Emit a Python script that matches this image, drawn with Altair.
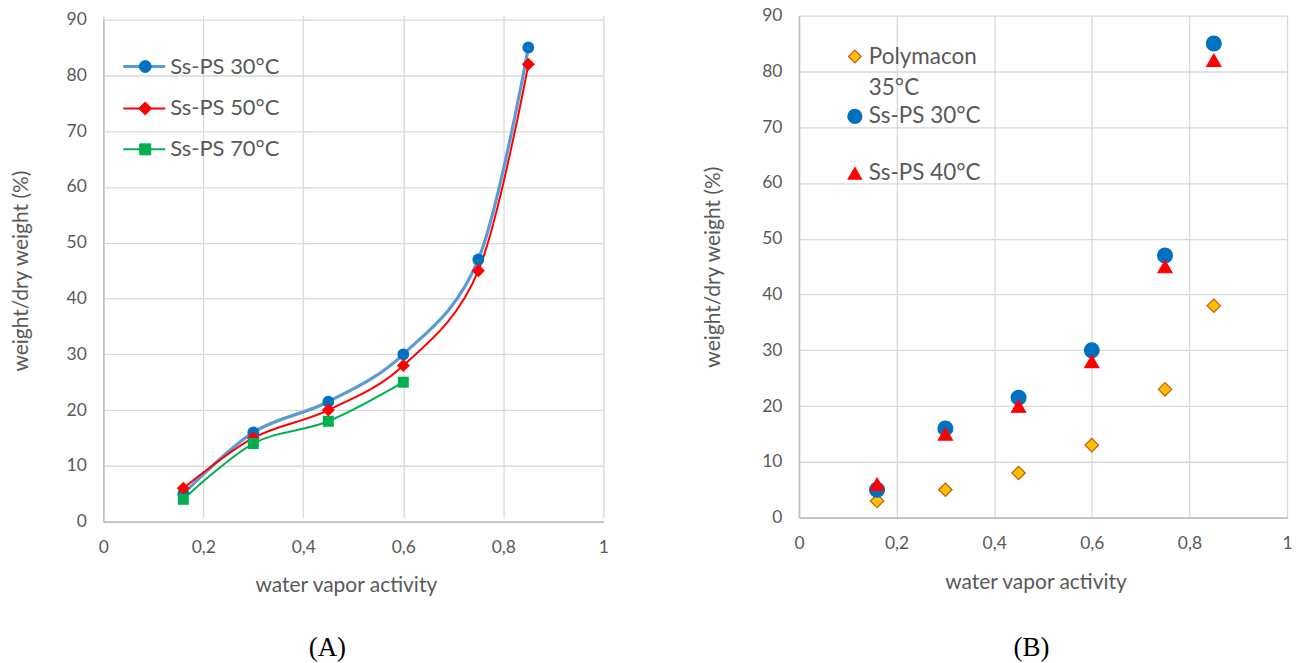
import altair as alt
import pandas as pd

# ---------------- data ----------------
x_vals = [0.16, 0.3, 0.45, 0.6, 0.75, 0.85]
x_vals_70 = [0.16, 0.3, 0.45, 0.6]
a_30 = [5, 16, 21.5, 30, 47, 85]
a_50 = [6, 15, 20, 28, 45, 82]
a_70 = [4, 14, 18, 25]
b_poly = [3, 5, 8, 13, 23, 38]
b_30 = [5, 16, 21.5, 30, 47, 85]
b_40 = [6, 15, 20, 28, 45, 82]

labels_a = ["Ss-PS 30°C", "Ss-PS 50°C", "Ss-PS 70°C"]
labels_b = ["Polymacon", "35°C", "Ss-PS 30°C", "Ss-PS 40°C"]
x_ticks = [0, 0.2, 0.4, 0.6, 0.8, 1]
y_ticks = [0, 10, 20, 30, 40, 50, 60, 70, 80, 90]
x_title = "water vapor activity"
y_title = "weight/dry weight (%)"
captions = ["(A)", "(B)"]

# ---------------- style ----------------
FONT = "Lato"
GRID = "#d9d9d9"
DOMAIN = "#bfbfbf"
TXT = "#595959"
LEG_SIZE = 22

df_a = pd.concat([
    pd.DataFrame({"x": x_vals, "y": a_30, "s": labels_a[0]}),
    pd.DataFrame({"x": x_vals, "y": a_50, "s": labels_a[1]}),
    pd.DataFrame({"x": x_vals_70, "y": a_70, "s": labels_a[2]}),
], ignore_index=True)

df_b = pd.concat([
    pd.DataFrame({"x": x_vals, "y": b_poly, "s": "Polymacon 35°C"}),
    pd.DataFrame({"x": x_vals, "y": b_30, "s": labels_b[2]}),
    pd.DataFrame({"x": x_vals, "y": b_40, "s": labels_b[3]}),
], ignore_index=True)


def encs(panel):
    if panel == "A":
        yscale = alt.Scale(domain=[0, 90], nice=False, range=[507, 4])
        tx = (243, 64)
        ty = (-82, 255.5)
    else:
        yscale = alt.Scale(domain=[0, 90], nice=False)
        tx = (237, 65)
        ty = (-86, 251.5)
    common = dict(domainColor=DOMAIN, domainWidth=1.6, ticks=False, grid=True,
                  gridColor=GRID, gridWidth=1.3, labelFont=FONT, labelFontSize=17.5,
                  labelColor=TXT, labelPadding=17, labelFlush=False, labelOverlap=False,
                  titleFont=FONT, titleFontSize=21, titleColor=TXT,
                  titleFontWeight="normal", titleBaseline="middle", titleAlign="center")
    xaxis = alt.Axis(values=x_ticks,
                     labelExpr="replace(toString(datum.value), '.', ',')",
                     title=x_title, titleX=tx[0], titleY=tx[1], **common)
    yaxis = alt.Axis(values=y_ticks, title=y_title, titleX=ty[0], titleY=ty[1],
                     titleAngle=270, **common)
    return (alt.X("x:Q", scale=alt.Scale(domain=[0, 1], nice=False), axis=xaxis),
            alt.Y("y:Q", scale=yscale, axis=yaxis))


def one(label):
    return pd.DataFrame({"t": [label]})


def leg_text(label, x, y, size=LEG_SIZE):
    return alt.Chart(one(label)).mark_text(
        font=FONT, fontSize=size, color=TXT, align="left", baseline="middle"
    ).encode(x=alt.value(x), y=alt.value(y), text="t:N")


def leg_point(label, x, y, shape, size, fill, stroke, sw=1):
    return alt.Chart(one(label)).mark_point(
        shape=shape, size=size, filled=True, fill=fill, stroke=stroke,
        strokeWidth=sw, opacity=1
    ).encode(x=alt.value(x), y=alt.value(y))


def leg_rule(label, x1, x2, y, color, w):
    return alt.Chart(one(label)).mark_rule(color=color, strokeWidth=w).encode(
        x=alt.value(x1), x2=alt.value(x2), y=alt.value(y))


def caption(label, x, y):
    return alt.Chart(one(label)).mark_text(
        font="Liberation Serif", fontSize=27, color="black", align="center",
        baseline="middle"
    ).encode(x=alt.value(x), y=alt.value(y), text="t:N")


# ---------------- panel A ----------------
XA, YA = encs("A")
line_cols_a = ["#5B9BD5", "#FF0000", "#00B050"]
line_w_a = [3.2, 2, 2]
mark_cols_a = ["#0070C0", "#FF0000", "#00B050"]
shapes_a = ["circle", "diamond", "square"]
sizes_a = [140, 170, 121]

layers_a = []
for lab, c, w in zip(labels_a, line_cols_a, line_w_a):
    layers_a.append(alt.Chart(df_a[df_a.s == lab]).mark_line(
        color=c, strokeWidth=w, interpolate="cardinal").encode(x=XA, y=YA))
for lab, c, sh, sz in zip(labels_a, mark_cols_a, shapes_a, sizes_a):
    layers_a.append(alt.Chart(df_a[df_a.s == lab]).mark_point(
        shape=sh, size=sz, filled=True, color=c, opacity=1).encode(x=XA, y=YA))

leg_y_a = [51, 93, 134]
for lab, c, w, mc, sh, sz, yy in zip(labels_a, line_cols_a, line_w_a, mark_cols_a,
                                     shapes_a, sizes_a, leg_y_a):
    layers_a.append(leg_rule(lab, 20, 62, yy, c, w))
    layers_a.append(leg_point(lab, 42, yy, sh, sz, mc, mc))
    layers_a.append(leg_text(lab, 67, yy))
layers_a.append(caption(captions[0], 224.5, 634))

panel_a = alt.layer(*layers_a).properties(width=501, height=507)

# ---------------- panel B ----------------
XB, YB = encs("B")
series_b = ["Polymacon 35°C", labels_b[2], labels_b[3]]
fills_b = ["#FFC000", "#0070C0", "#FF0000"]
strokes_b = ["#C55A11", "#0070C0", "#FF0000"]
shapes_b = ["diamond", "circle", "triangle-up"]
sizes_b = [180, 220, 200]

layers_b = []
for lab, f, s, sh, sz in zip(series_b, fills_b, strokes_b, shapes_b, sizes_b):
    layers_b.append(alt.Chart(df_b[df_b.s == lab]).mark_point(
        shape=sh, size=sz, filled=True, fill=f, stroke=s, strokeWidth=1.2,
        opacity=1).encode(x=XB, y=YB))

leg_y_b = [41, 101, 158]
for f, s, sh, sz, yy, lab in zip(fills_b, strokes_b, shapes_b, sizes_b, leg_y_b,
                                 [labels_b[0], labels_b[2], labels_b[3]]):
    layers_b.append(leg_point(lab, 56, yy, sh, sz * 0.9, f, s, 1.2))
    layers_b.append(leg_text(lab, 70, yy, 22.5))
layers_b.append(leg_text(labels_b[1], 70, 72.5, 22.5))
layers_b.append(caption(captions[1], 233, 634))

panel_b = alt.layer(*layers_b).properties(width=489, height=503)

chart = alt.hconcat(panel_a, panel_b, spacing=196, bounds="flush").properties(
    padding={"left": 2.5, "top": -2, "right": 2, "bottom": 0}
).configure_view(stroke=None)

chart.save("out.html", embed_options={"renderer": "svg", "actions": False})
